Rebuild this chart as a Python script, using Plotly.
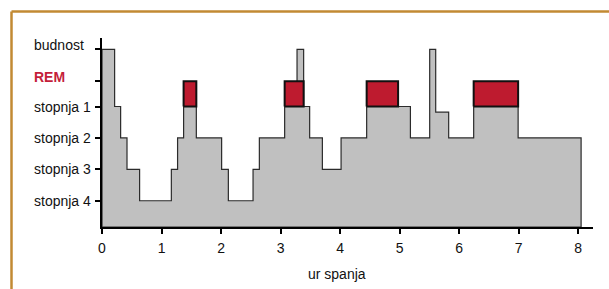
import plotly.graph_objects as go

# ---- data ----
stage_names = ["stopnja 4", "stopnja 3", "stopnja 2", "stopnja 1", "REM", "budnost"]
stage_levels = [1, 2, 3, 4, 4.8, 5.82]

# hypnogram: start time (hours) of each segment and its depth level
seg_start = [0, 0.212, 0.313, 0.42, 0.632, 1.165, 1.27, 1.371, 1.585, 2.01, 2.123,
             2.538, 2.644, 3.069, 3.277, 3.388, 3.489, 3.703, 4.017, 4.447, 5.182,
             5.506, 5.607, 5.825, 6.245, 6.992]
seg_level = [5.82, 4, 3, 2, 1, 2, 3, 4, 3, 2, 1,
             2, 3, 4, 5.82, 4, 3, 2, 3, 4, 3,
             5.82, 3.82, 3, 4, 3]
sleep_end = 8.05

# REM episodes (start, end) in hours
rem_start = [1.371, 3.069, 4.447, 6.245]
rem_end = [1.585, 3.388, 4.975, 6.992]

x_ticks = [0, 1, 2, 3, 4, 5, 6, 7, 8]
x_title = "ur spanja"

# ---- layout constants ----
W, H = 609, 289
ML, MR, MT, MB = 102, 16, 38, 62
PW, PH = W - ML - MR, H - MT - MB
Y_BOTTOM, Y_TOP = 0.165, 6.18
FONT = "Arial, Liberation Sans, sans-serif"

def px_x(p):
    return (p - ML) / PW

def px_y(p):
    return (H - MB - p) / PH

fig = go.Figure()

# gray hypnogram polygon
xs = [0] + seg_start + [sleep_end, 0]
ys = [Y_BOTTOM] + seg_level + [Y_BOTTOM, Y_BOTTOM]
fig.add_trace(go.Scatter(x=xs, y=ys, mode="lines", line_shape="hv",
                         fill="toself", fillcolor="#C0C0C0",
                         line=dict(color="#2b2b2b", width=1.2),
                         hoverinfo="skip", showlegend=False))

# REM boxes
for a, b in zip(rem_start, rem_end):
    fig.add_trace(go.Scatter(x=[a, b, b, a, a], y=[4, 4, 4.8, 4.8, 4],
                             mode="lines", fill="toself", fillcolor="#BE1B2F",
                             line=dict(color="#111111", width=2),
                             hoverinfo="skip", showlegend=False))

# y labels (left aligned)
label_y = {"stopnja 4": 1, "stopnja 3": 2, "stopnja 2": 3, "stopnja 1": 4,
           "REM": 4.95, "budnost": 5.96}
for name in stage_names:
    is_rem = name == "REM"
    fig.add_annotation(x=px_x(32), xref="paper", y=label_y[name], yref="y",
                       text="<b>REM</b>" if is_rem else name, showarrow=False,
                       xanchor="left", yanchor="middle",
                       font=dict(family=FONT, size=14,
                                 color="#C41E3A" if is_rem else "#111111"))

# x-axis title
fig.add_annotation(x=px_x(337), xref="paper", y=px_y(274), yref="paper",
                   text=x_title, showarrow=False, xanchor="center", yanchor="middle",
                   font=dict(family=FONT, size=14, color="#111111"))

# orange border (top and left edges)
border = "#C28A33"
fig.add_shape(type="line", xref="paper", yref="paper",
              x0=px_x(11.5), x1=px_x(640), y0=px_y(11.5), y1=px_y(11.5),
              line=dict(color=border, width=2.5))
fig.add_shape(type="line", xref="paper", yref="paper",
              x0=px_x(11.5), x1=px_x(11.5), y0=px_y(11.5), y1=px_y(320),
              line=dict(color=border, width=2.5))

fig.update_xaxes(range=[0, 8.25], tickvals=x_ticks, ticktext=[str(v) for v in x_ticks],
                 showline=True, linecolor="black", linewidth=2,
                 ticks="outside", ticklen=5, tickwidth=2, tickcolor="black",
                 ticklabelstandoff=2,
                 showgrid=False, zeroline=False,
                 tickfont=dict(family=FONT, size=14, color="#111111"))
fig.update_yaxes(range=[Y_BOTTOM, Y_TOP], tickvals=stage_levels, showticklabels=False,
                 showline=True, linecolor="black", linewidth=2,
                 ticks="outside", ticklen=5, tickwidth=2, tickcolor="black",
                 showgrid=False, zeroline=False)

fig.update_layout(width=W, height=H, margin=dict(l=ML, r=MR, t=MT, b=MB),
                  plot_bgcolor="white", paper_bgcolor="white",
                  font=dict(family=FONT), showlegend=False)

fig.write_html("out.html", config={"displayModeBar": False},
               post_script="document.body.style.margin='0';document.body.style.overflow='hidden';")
